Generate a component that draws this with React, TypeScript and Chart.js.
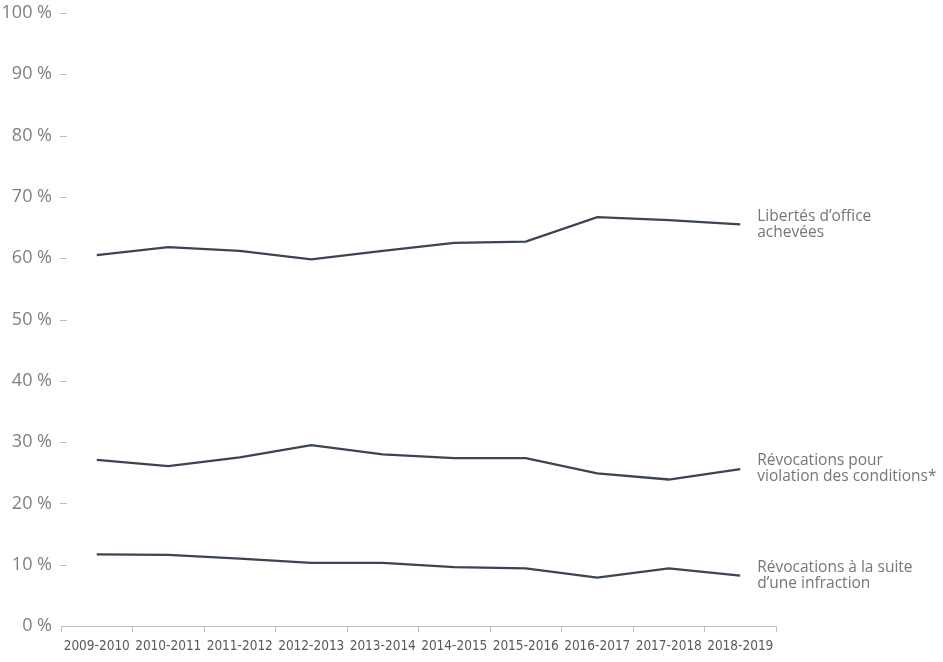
import { useEffect, useRef } from 'react';
import { Chart, registerables } from 'chart.js';

Chart.register(...registerables);

const categories = [
  '2009-2010', '2010-2011', '2011-2012', '2012-2013', '2013-2014',
  '2014-2015', '2015-2016', '2016-2017', '2017-2018', '2018-2019'
];

const libertesOffice = [60.5, 61.8, 61.2, 59.8, 61.2, 62.5, 62.7, 66.7, 66.2, 65.5];
const revocationsConditions = [27.1, 26.1, 27.5, 29.5, 28.0, 27.4, 27.4, 24.9, 23.9, 25.6];
const revocationsInfraction = [11.7, 11.6, 11.0, 10.3, 10.3, 9.6, 9.4, 7.9, 9.4, 8.2];

const seriesLabels = [
  ['Libertés d’office', 'achevées'],
  ['Révocations pour', 'violation des conditions*'],
  ['Révocations à la suite', 'd’une infraction']
];

const LINE_COLOR = '#3a4452';
const AXIS_COLOR = '#bfbfbf';

// short dashes right of the y labels
const yDashes = {
  id: 'yDashes',
  afterDraw(chart: Chart) {
    const { ctx, chartArea, scales } = chart;
    const y = scales.y;
    ctx.save();
    ctx.strokeStyle = AXIS_COLOR;
    ctx.lineWidth = 1;
    y.ticks.forEach((t) => {
      if (t.value === 0) return;
      const py = Math.round(y.getPixelForValue(t.value)) + 0.5;
      ctx.beginPath();
      ctx.moveTo(chartArea.left - 1, py);
      ctx.lineTo(chartArea.left + 6, py);
      ctx.stroke();
    });
    ctx.restore();
  }
};

// series names at the end of each line
const endLabels = {
  id: 'endLabels',
  afterDatasetsDraw(chart: Chart) {
    const { ctx } = chart;
    ctx.save();
    ctx.font = '15.5px "Open Sans", sans-serif';
    ctx.fillStyle = '#767676';
    ctx.textAlign = 'left';
    ctx.textBaseline = 'middle';
    chart.data.datasets.forEach((_, i) => {
      const meta = chart.getDatasetMeta(i);
      const last = meta.data[meta.data.length - 1];
      const lines = seriesLabels[i];
      const lh = 16;
      const y0 = last.y - ((lines.length - 1) * lh) / 2;
      lines.forEach((line, j) => {
        ctx.fillText(line, last.x + 17, y0 + j * lh);
      });
    });
    ctx.restore();
  }
};

export default function App() {
  const chartRef = useRef<HTMLCanvasElement>(null);
  const chartInstance = useRef<Chart | null>(null);

  useEffect(() => {
    if (!chartRef.current) return;
    if (chartInstance.current) chartInstance.current.destroy();

    const mk = (label: string, data: number[]) => ({
      label,
      data,
      borderColor: LINE_COLOR,
      backgroundColor: LINE_COLOR,
      borderWidth: 2.25,
      pointRadius: 0,
      tension: 0,
      fill: false
    });

    chartInstance.current = new Chart(chartRef.current, {
      type: 'line',
      data: {
        labels: categories,
        datasets: [
          mk(seriesLabels[0].join(' '), libertesOffice),
          mk(seriesLabels[1].join(' '), revocationsConditions),
          mk(seriesLabels[2].join(' '), revocationsInfraction)
        ]
      },
      options: {
        animation: false,
        responsive: true,
        maintainAspectRatio: false,
        layout: { padding: { top: 13, right: 167, bottom: 0, left: 0 } },
        plugins: {
          legend: { display: false },
          tooltip: { enabled: false }
        },
        scales: {
          x: {
            offset: true,
            grid: {
              offset: true,
              drawOnChartArea: false,
              drawTicks: true,
              tickLength: 6,
              color: AXIS_COLOR
            },
            border: { display: true, color: AXIS_COLOR, width: 1 },
            ticks: {
              padding: 6,
              maxRotation: 0,
              autoSkip: false,
              color: '#595959',
              font: { family: '"DejaVu Sans Condensed", sans-serif', size: 13.5 }
            },
            afterFit(scale) {
              scale.height = 36;
              scale.paddingLeft = 0;
              scale.paddingRight = 0;
            }
          },
          y: {
            min: 0,
            max: 100,
            grid: { display: false, drawTicks: false },
            border: { display: false },
            ticks: {
              stepSize: 10,
              padding: 9,
              color: '#808080',
              font: { family: '"Open Sans", sans-serif', size: 18 },
              callback: (v) => v + ' %'
            },
            afterFit(scale) {
              scale.width = 61;
              scale.paddingTop = 0;
              scale.paddingBottom = 0;
            }
          }
        }
      },
      plugins: [yDashes, endLabels]
    });

    return () => {
      if (chartInstance.current) {
        chartInstance.current.destroy();
        chartInstance.current = null;
      }
    };
  }, []);

  return (
    <div style={{ position: 'fixed', left: 0, top: 0, width: 943, height: 662, background: '#fff' }}>
      <canvas ref={chartRef} />
    </div>
  );
}
